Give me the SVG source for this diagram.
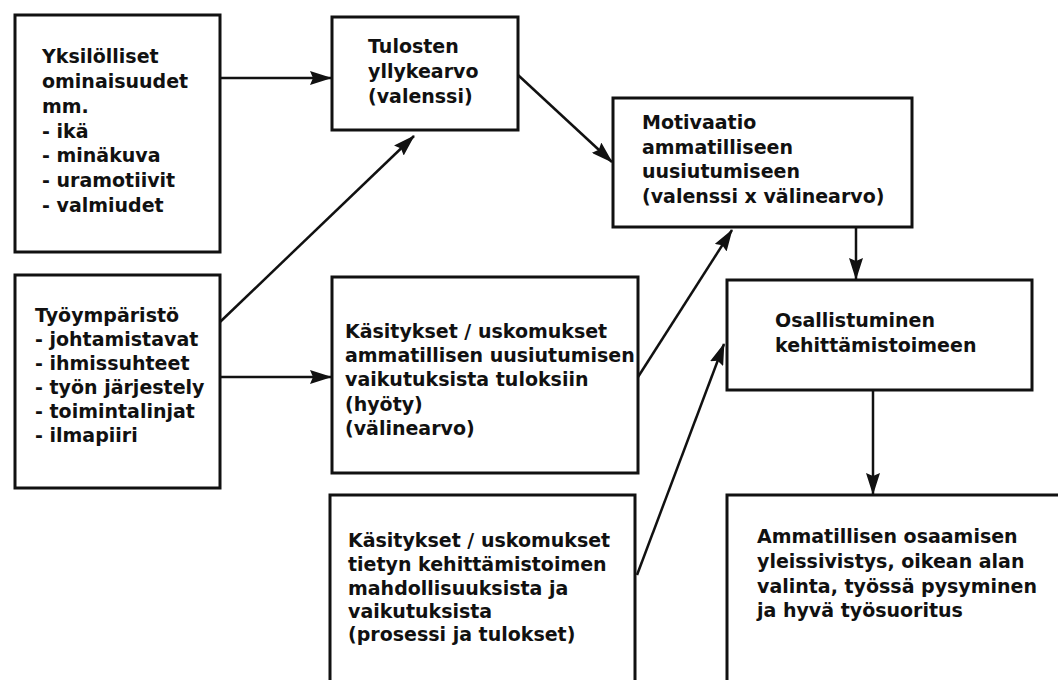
<svg xmlns="http://www.w3.org/2000/svg" width="1058" height="680" viewBox="0 0 1058 680">
  <style>
    .box { fill: #ffffff; stroke: #111111; stroke-width: 3; }
    .lbl { font-family: "DejaVu Sans", "Liberation Sans", sans-serif; font-weight: bold; font-size: 19px; fill: #111111; }
    .edge { stroke: #111111; stroke-width: 2.5; fill: none; marker-end: url(#arrow); }
  </style>
  <defs>
    <marker id="arrow" viewBox="0 0 22 14" refX="21" refY="7" markerWidth="22" markerHeight="14" markerUnits="userSpaceOnUse" orient="auto">
      <path d="M0,0 L22,7 L0,14 L3,7 Z" fill="#111111"/>
    </marker>
  </defs>
  <rect width="1058" height="680" fill="#ffffff"/>

  <g id="yksilolliset">
    <rect class="box" x="15" y="15" width="205" height="237"/>
    <text class="lbl" x="42" y="63">Yksilölliset</text>
    <text class="lbl" x="42" y="88">ominaisuudet</text>
    <text class="lbl" x="42" y="113">mm.</text>
    <text class="lbl" x="42" y="138">- ikä</text>
    <text class="lbl" x="42" y="162">- minäkuva</text>
    <text class="lbl" x="42" y="187">- uramotiivit</text>
    <text class="lbl" x="42" y="212">- valmiudet</text>
  </g>

  <g id="tulosten">
    <rect class="box" x="332" y="17" width="186" height="113"/>
    <text class="lbl" x="368" y="53">Tulosten</text>
    <text class="lbl" x="368" y="78">yllykearvo</text>
    <text class="lbl" x="368" y="103">(valenssi)</text>
  </g>

  <g id="motivaatio">
    <rect class="box" x="613" y="98" width="299" height="129"/>
    <text class="lbl" x="642" y="129">Motivaatio</text>
    <text class="lbl" x="642" y="154">ammatilliseen</text>
    <text class="lbl" x="642" y="178">uusiutumiseen</text>
    <text class="lbl" x="642" y="203">(valenssi x välinearvo)</text>
  </g>

  <g id="tyoymparisto">
    <rect class="box" x="15" y="275" width="205" height="213"/>
    <text class="lbl" x="35" y="322">Työympäristö</text>
    <text class="lbl" x="35" y="346">- johtamistavat</text>
    <text class="lbl" x="35" y="370">- ihmissuhteet</text>
    <text class="lbl" x="35" y="394">- työn järjestely</text>
    <text class="lbl" x="35" y="418">- toimintalinjat</text>
    <text class="lbl" x="35" y="442">- ilmapiiri</text>
  </g>

  <g id="kasitykset-hyoty">
    <rect class="box" x="332" y="277" width="306" height="196"/>
    <text class="lbl" x="345" y="338">Käsitykset / uskomukset</text>
    <text class="lbl" x="345" y="362">ammatillisen uusiutumisen</text>
    <text class="lbl" x="345" y="386">vaikutuksista tuloksiin</text>
    <text class="lbl" x="345" y="411">(hyöty)</text>
    <text class="lbl" x="345" y="435">(välinearvo)</text>
  </g>

  <g id="kasitykset-toimi">
    <rect class="box" x="330" y="495" width="305" height="210"/>
    <text class="lbl" x="348" y="547">Käsitykset / uskomukset</text>
    <text class="lbl" x="348" y="571">tietyn kehittämistoimen</text>
    <text class="lbl" x="348" y="595">mahdollisuuksista ja</text>
    <text class="lbl" x="348" y="618">vaikutuksista</text>
    <text class="lbl" x="348" y="641">(prosessi ja tulokset)</text>
  </g>

  <g id="osallistuminen">
    <rect class="box" x="727" y="280" width="305" height="110"/>
    <text class="lbl" x="775" y="327">Osallistuminen</text>
    <text class="lbl" x="775" y="352">kehittämistoimeen</text>
  </g>

  <g id="ammatillisen-osaaminen">
    <rect class="box" x="727" y="495" width="360" height="210"/>
    <text class="lbl" x="757" y="543">Ammatillisen osaamisen</text>
    <text class="lbl" x="757" y="568">yleissivistys, oikean alan</text>
    <text class="lbl" x="757" y="593">valinta, työssä pysyminen</text>
    <text class="lbl" x="757" y="617">ja hyvä työsuoritus</text>
  </g>

  <g id="connectors">
    <line class="edge" x1="220" y1="78" x2="331" y2="78"/>
    <line class="edge" x1="220" y1="377" x2="331" y2="377"/>
    <line class="edge" x1="220" y1="322" x2="414" y2="136"/>
    <line class="edge" x1="518" y1="75" x2="612" y2="162"/>
    <line class="edge" x1="638" y1="377" x2="732" y2="230"/>
    <line class="edge" x1="637" y1="575" x2="724" y2="344"/>
    <line class="edge" x1="856" y1="227" x2="856" y2="279"/>
    <line class="edge" x1="873" y1="390" x2="873" y2="494"/>
  </g>
</svg>
